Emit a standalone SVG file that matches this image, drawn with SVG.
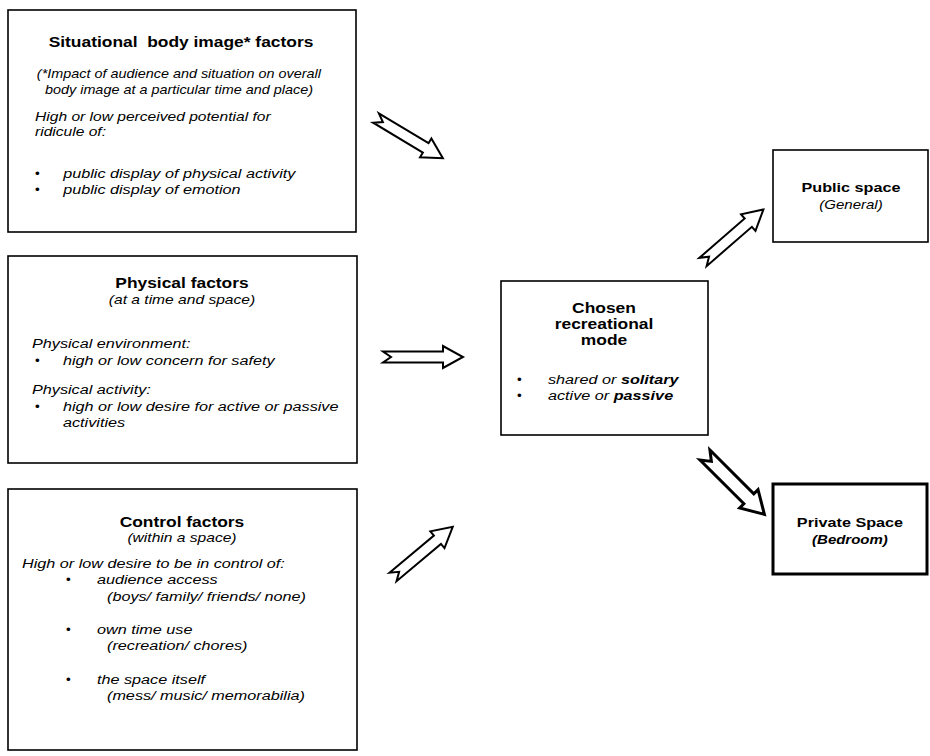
<svg xmlns="http://www.w3.org/2000/svg" width="930" height="756" viewBox="0 0 930 756">
<style>
 .box{fill:#fff;stroke:#000;stroke-width:1.6}
 .thick{stroke-width:3}
 text{font-family:"Liberation Sans",Arial,Helvetica,sans-serif;fill:#000;transform-box:fill-box;transform:scaleX(1.2)}
 .c{text-anchor:middle;transform-origin:center}
 .l{transform-origin:left center}
 .t{font-weight:bold;font-size:14.5px}
 .s{font-style:italic;font-size:13px}
 .s1{font-style:italic;font-size:12px}
 .b{font-style:italic;font-size:13.5px}
 .b1{font-style:italic;font-size:13px}
 .bu{font-size:13.5px;transform:none}
 .arr{fill:#fff;stroke:#000;stroke-width:2;stroke-linejoin:miter}
 .arr5{stroke-width:3}
</style>
<rect width="930" height="756" fill="#fff"/>

<g id="situational">
 <rect class="box" x="8" y="10" width="348" height="222"/>
 <text class="t c" x="181" y="47" style="white-space:pre">Situational  body image* factors</text>
 <text class="s1 c" x="179" y="78">(*Impact of audience and situation on overall</text>
 <text class="s1 c" x="179" y="94">body image at a particular time and place)</text>
 <text class="b1 l" x="35" y="121">High or low perceived potential for</text>
 <text class="b1 l" x="35" y="136">ridicule of:</text>
 <text class="bu" x="35" y="178">•</text>
 <text class="b l" x="63" y="178">public display of physical activity</text>
 <text class="bu" x="35" y="194">•</text>
 <text class="b l" x="63" y="194">public display of emotion</text>
</g>

<g id="physical">
 <rect class="box" x="8" y="256" width="349" height="207"/>
 <text class="t c" x="182" y="288">Physical factors</text>
 <text class="s c" x="182" y="304">(at a time and space)</text>
 <text class="b l" x="32" y="348">Physical environment:</text>
 <text class="bu" x="35" y="365">•</text>
 <text class="b l" x="63" y="365">high or low concern for safety</text>
 <text class="b l" x="32" y="394">Physical activity:</text>
 <text class="bu" x="35" y="411">•</text>
 <text class="b l" x="63" y="411">high or low desire for active or passive</text>
 <text class="b l" x="63" y="427">activities</text>
</g>

<g id="control">
 <rect class="box" x="8" y="489" width="349" height="261"/>
 <text class="t c" x="182" y="527">Control factors</text>
 <text class="s c" x="182" y="542">(within a space)</text>
 <text class="b l" x="22" y="568">High or low desire to be in control of:</text>
 <text class="bu" x="66" y="584">•</text>
 <text class="b l" x="97" y="584">audience access</text>
 <text class="b l" x="107" y="601">(boys/ family/ friends/ none)</text>
 <text class="bu" x="66" y="634">•</text>
 <text class="b l" x="97" y="634">own time use</text>
 <text class="b l" x="107" y="650">(recreation/ chores)</text>
 <text class="bu" x="66" y="684">•</text>
 <text class="b l" x="97" y="684">the space itself</text>
 <text class="b l" x="107" y="700">(mess/ music/ memorabilia)</text>
</g>

<g id="chosen">
 <rect class="box" x="501" y="281" width="207" height="154"/>
 <text class="t c" x="604" y="313">Chosen</text>
 <text class="t c" x="604" y="329">recreational</text>
 <text class="t c" x="604" y="345">mode</text>
 <text class="bu" x="517" y="384">•</text>
 <text class="b l" x="548" y="384">shared or <tspan font-weight="bold">solitary</tspan></text>
 <text class="bu" x="517" y="400">•</text>
 <text class="b l" x="548" y="400">active or <tspan font-weight="bold">passive</tspan></text>
</g>

<g id="public">
 <rect class="box" x="773" y="150" width="155" height="92"/>
 <text class="c" style="font-weight:bold;font-size:13.5px" x="851" y="192">Public space</text>
 <text class="c" style="font-style:italic;font-size:12.5px" x="851" y="209">(General)</text>
</g>

<g id="private">
 <rect class="box thick" x="773" y="484" width="154" height="90"/>
 <text class="c" style="font-weight:bold;font-size:13.5px" x="850" y="527">Private Space</text>
 <text class="c" style="font-weight:bold;font-style:italic;font-size:12.5px" x="850" y="544">(Bedroom)</text>
</g>

<g id="connectors">
 <path class="arr" transform="translate(376,118) rotate(31)" d="M0,-5.5 H58 V-11 L78,0 L58,11 V5.5 H0 L8,0 Z"/>
 <path class="arr" transform="translate(383,357)" d="M0,-5.5 H60 V-11 L80,0 L60,11 V5.5 H0 L8,0 Z"/>
 <path class="arr" transform="translate(393,577) rotate(-40)" d="M0,-5.5 H58 V-11 L78,0 L58,11 V5.5 H0 L8,0 Z"/>
 <path class="arr" transform="translate(703,262) rotate(-41)" d="M0,-5.5 H60 V-11 L80,0 L60,11 V5.5 H0 L8,0 Z"/>
 <path class="arr arr5" transform="translate(705,455) rotate(45)" d="M0,-7 H62 V-13 L84,0 L62,13 V7 H0 L9,0 Z"/>
</g>
</svg>
